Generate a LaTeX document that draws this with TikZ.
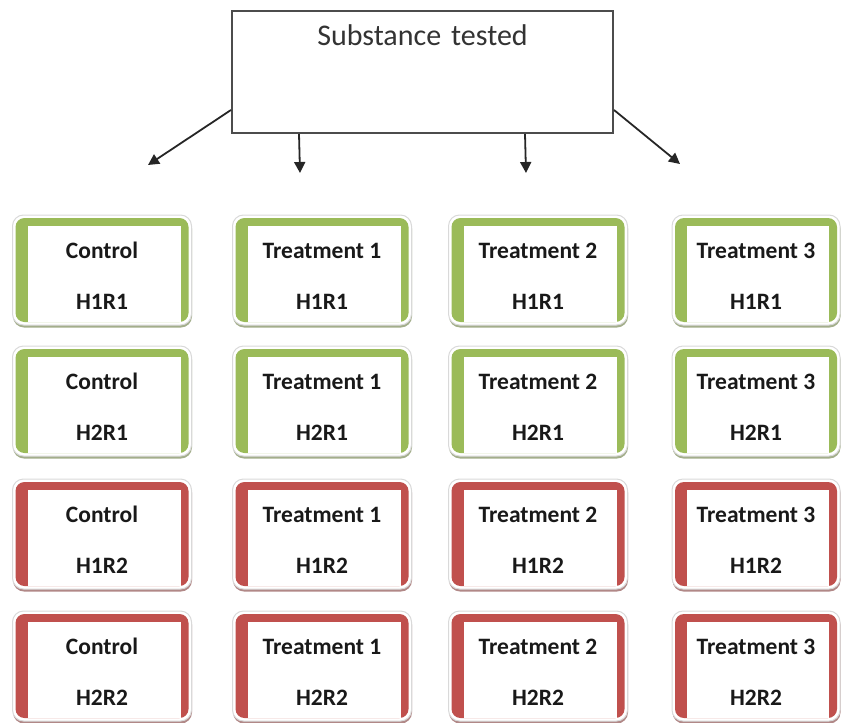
\documentclass[tikz,border=0pt]{standalone}
\usepackage{fontspec}
\setmainfont{Carlito}
\usetikzlibrary{arrows.meta,shadows}
\definecolor{tgreen}{RGB}{155,187,89}
\definecolor{tred}{RGB}{192,80,77}

\tikzset{
  tile/.style={rounded corners=11pt, draw=gray!30, line width=1pt, fill=white,
    drop shadow={shadow xshift=0.5pt, shadow yshift=-2.5pt, opacity=0.8, fill=#1!45!gray},
    minimum height=110pt,
    path picture={
      \fill[#1, rounded corners=9pt] ([xshift=3pt,yshift=-3pt]path picture bounding box.north west)
        rectangle ([xshift=-3pt,yshift=3pt]path picture bounding box.south east);
      \fill[white, sharp corners] ([xshift=15pt,yshift=-11pt]path picture bounding box.north west)
        rectangle ([xshift=-11pt,yshift=3pt]path picture bounding box.south east);
    }},
  tiletext/.style={align=center, text=black!90, font=\bfseries\fontsize{23.5}{27}\selectfont},
  topbox/.style={draw=black!70, line width=2pt, fill=white, anchor=north, align=center,
    text width=381pt, inner sep=0pt, text height=35pt, text depth=87pt, text=black!80,
    font=\fontsize{30}{35}\selectfont},
  link/.style={-{Triangle[width=11pt,length=11pt]}, line width=1.8pt, black!85}
}

\begin{document}
\begin{tikzpicture}[x=1pt,y=1pt]
\useasboundingbox (0,0) rectangle (842,-722);

\node[topbox] (sub) at (422.5,-10) {Substance tested};

\coordinate (a1) at (148,-165);
\coordinate (a2) at (300,-173);
\coordinate (a3) at (526,-173);
\coordinate (a4) at (680,-164);
\draw[link] ([yshift=24pt]sub.south west) -- (a1);
\draw[link] ([xshift=68pt]sub.south west) -- (a2);
\draw[link] ([xshift=294pt]sub.south west) -- (a3);
\draw[link] ([yshift=24pt]sub.south east) -- (a4);

\foreach \name/\x/\w [count=\c] in {Control/102/179, Treatment 1/322/179, Treatment 2/538/179, Treatment 3/756/168}
  \foreach \hr/\y/\col [count=\r] in {H1R1/270/tgreen, H2R1/401/tgreen, H1R2/534/tred, H2R2/666/tred}
  {
    \node[tile=\col, minimum width=\w pt] (t\c-\r) at (\x,-\y) {};
    \node[tiletext] (l\c-\r) at ([yshift=-6pt]t\c-\r.center) {\name\\[24pt]\hr};
  }
\end{tikzpicture}
\end{document}
